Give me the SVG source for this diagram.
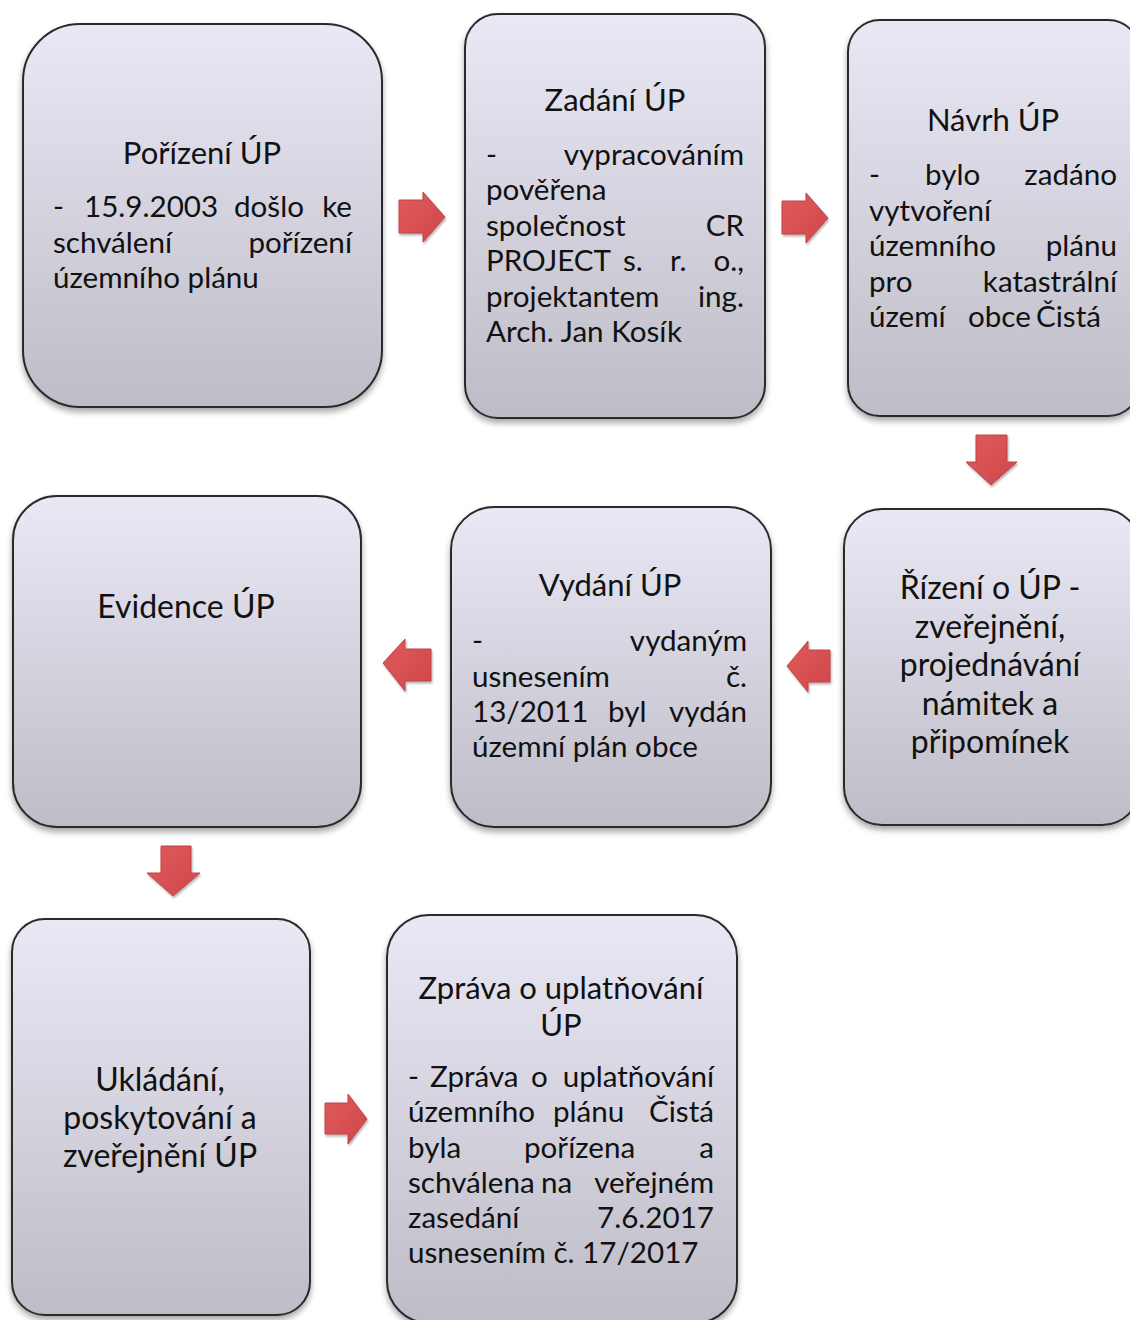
<svg xmlns="http://www.w3.org/2000/svg" width="1130" height="1320" viewBox="0 0 1130 1320">
<style>
.box{fill:url(#g);stroke:#2a2a2a;stroke-width:2;filter:url(#sh)}
.t{font-family:Lato,"Open Sans","Liberation Sans",sans-serif;fill:#111;}
.ti{font-size:31px;text-anchor:middle}
.tb{font-size:32px;text-anchor:middle}
.b{font-size:29.6px}
.e{text-anchor:end}
.ar{fill:url(#ag);stroke:#c24446;stroke-width:1;filter:url(#ash)}
</style>
<defs>
<linearGradient id="g" x1="0" y1="0" x2="0" y2="1">
<stop offset="0" stop-color="#e9e8f5"/>
<stop offset="1" stop-color="#bebcc6"/>
</linearGradient>
<linearGradient id="ag" x1="0" y1="0" x2="1" y2="1">
<stop offset="0" stop-color="#e05a5c"/>
<stop offset="1" stop-color="#cf4749"/>
</linearGradient>
<filter id="sh" x="-10%" y="-10%" width="120%" height="125%">
<feGaussianBlur in="SourceAlpha" stdDeviation="3"/>
<feOffset dx="0" dy="4" result="o"/>
<feComponentTransfer><feFuncA type="linear" slope="0.35"/></feComponentTransfer>
<feMerge><feMergeNode/><feMergeNode in="SourceGraphic"/></feMerge>
</filter>
<filter id="ash" x="-20%" y="-20%" width="140%" height="140%">
<feGaussianBlur in="SourceAlpha" stdDeviation="1.2"/>
<feOffset dx="1" dy="1.5"/>
<feComponentTransfer><feFuncA type="linear" slope="0.3"/></feComponentTransfer>
<feMerge><feMergeNode/><feMergeNode in="SourceGraphic"/></feMerge>
</filter>
</defs>
<rect width="1130" height="1320" fill="#fff"/>

<g id="n1">
<rect class="box" x="23" y="24" width="359" height="383" rx="57"/>
<g transform="translate(0,2)">
<text class="t ti" x="202" y="162">Pořízení ÚP</text>
<g class="t b">
<text x="53" y="215">-</text><text x="84" y="215">15.9.2003</text><text x="234" y="215">došlo</text><text class="e" x="352" y="215">ke</text>
<text x="53" y="251">schválení</text><text class="e" x="352" y="251">pořízení</text>
<text x="53" y="286">územního plánu</text>
</g>
</g>
</g>

<g id="n2">
<rect class="box" x="465" y="14" width="300" height="404" rx="33"/>
<g transform="translate(0,2)">
<text class="t ti" x="615" y="109">Zadání ÚP</text>
<g class="t b">
<text x="486" y="163">-</text><text class="e" x="744" y="163">vypracováním</text>
<text x="486" y="198">pověřena</text>
<text x="486" y="234">společnost</text><text class="e" x="744" y="234">CR</text>
<text x="486" y="269">PROJECT</text><text x="623" y="269">s.</text><text x="670" y="269">r.</text><text class="e" x="744" y="269">o.,</text>
<text x="486" y="305">projektantem</text><text class="e" x="744" y="305">ing.</text>
<text x="486" y="340">Arch. Jan Kosík</text>
</g>
</g>
</g>

<g id="n3">
<rect class="box" x="848" y="20" width="292" height="396" rx="32"/>
<g transform="translate(0,2)">
<text class="t ti" x="993" y="129">Návrh ÚP</text>
<g class="t b">
<text x="869" y="183">-</text><text x="925" y="183">bylo</text><text class="e" x="1117" y="183">zadáno</text>
<text x="869" y="219">vytvoření</text>
<text x="869" y="254">územního</text><text class="e" x="1117" y="254">plánu</text>
<text x="869" y="290">pro</text><text class="e" x="1117" y="290">katastrální</text>
<text x="869" y="325">území</text><text x="968" y="325">obce</text><text x="1036" y="325">Čistá</text>
</g>
</g>
</g>

<g id="n4">
<rect class="box" x="844" y="509" width="296" height="316" rx="38"/>
<g class="t tb" transform="translate(0,2)">
<text x="990" y="597">Řízení o ÚP -</text>
<text x="990" y="636">zveřejnění,</text>
<text x="990" y="674">projednávání</text>
<text x="990" y="713">námitek a</text>
<text x="990" y="751">připomínek</text>
</g>
</g>

<g id="n5">
<rect class="box" x="451" y="507" width="320" height="320" rx="43"/>
<g transform="translate(0,2)">
<text class="t ti" x="610" y="594">Vydání ÚP</text>
<g class="t b">
<text x="472" y="649">-</text><text class="e" x="747" y="649">vydaným</text>
<text x="472" y="685">usnesením</text><text class="e" x="747" y="685">č.</text>
<text x="472" y="720">13/2011</text><text x="608" y="720">byl</text><text class="e" x="747" y="720">vydán</text>
<text x="472" y="755">územní plán obce</text>
</g>
</g>
</g>

<g id="n6">
<rect class="box" x="13" y="496" width="348" height="331" rx="44"/>
<text class="t tb" x="186" y="618">Evidence ÚP</text>
</g>

<g id="n7">
<rect class="box" x="12" y="919" width="298" height="396" rx="33"/>
<g class="t tb" transform="translate(0,2)">
<text x="160" y="1089">Ukládání,</text>
<text x="160" y="1127">poskytování a</text>
<text x="160" y="1165">zveřejnění ÚP</text>
</g>
</g>

<g id="n8">
<rect class="box" x="387" y="915" width="350" height="408" rx="42"/>
<g transform="translate(0,2)">
<g class="t ti">
<text x="561" y="997">Zpráva o uplatňování</text>
<text x="561" y="1034">ÚP</text>
</g>
<g class="t b">
<text x="408" y="1085">-</text><text x="430" y="1085">Zpráva</text><text x="531" y="1085">o</text><text class="e" x="714" y="1085">uplatňování</text>
<text x="408" y="1120">územního</text><text x="553" y="1120">plánu</text><text class="e" x="714" y="1120">Čistá</text>
<text x="408" y="1156">byla</text><text x="524" y="1156">pořízena</text><text class="e" x="714" y="1156">a</text>
<text x="408" y="1191">schválena</text><text x="541" y="1191">na</text><text class="e" x="714" y="1191">veřejném</text>
<text x="408" y="1226">zasedání</text><text class="e" x="714" y="1226">7.6.2017</text>
<text x="408" y="1261">usnesením č. 17/2017</text>
</g>
</g>
</g>

<g id="connectors">
<polygon class="ar" points="399,200 423,200 423,192 445,217 423,242 423,233 399,233"/>
<polygon class="ar" points="782,201 806,201 806,193 828,218 806,243 806,234 782,234"/>
<polygon class="ar" points="976,435 1007,435 1007,462 1017,462 991,485 966,462 976,462"/>
<polygon class="ar" points="830,650 808,650 808,641 787,666 808,692 808,682 830,682"/>
<polygon class="ar" points="431,649 405,649 405,639 383,663 405,691 405,681 431,681"/>
<polygon class="ar" points="161,846 191,846 191,873 200,873 173,896 147,873 161,873"/>
<polygon class="ar" points="325,1103 348,1103 348,1094 367,1119 348,1144 348,1134 325,1134"/>
</g>
</svg>
